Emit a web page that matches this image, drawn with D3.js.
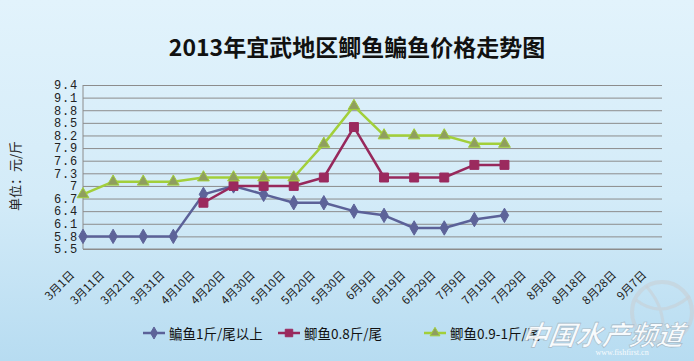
<!DOCTYPE html>
<html><head><meta charset="utf-8">
<script src="https://cdn.jsdelivr.net/npm/d3@7"></script>
<style>html,body{margin:0;padding:0;overflow:hidden;}svg{display:block;}</style>
</head><body>
<script>
const categories = ["3月1日","3月11日","3月21日","3月31日","4月10日","4月20日","4月30日","5月10日","5月20日","5月30日","6月9日","6月19日","6月29日","7月9日","7月19日","7月29日","8月8日","8月18日","8月28日","9月7日"];
const yTicks = [5.5,5.8,6.1,6.4,6.7,7,7.3,7.6,7.9,8.2,8.5,8.8,9.1,9.4];
const seriesNames = ["鳊鱼1斤/尾以上","鲫鱼0.8斤/尾","鲫鱼0.9-1斤/尾"];
const bianyu = [5.8,5.8,5.8,5.8,6.8,7.0,6.8,6.6,6.6,6.4,6.3,6.0,6.0,6.2,6.3,null,null,null,null,null];
const jiyu08 = [null,null,null,null,6.6,7.0,7.0,7.0,7.2,8.4,7.2,7.2,7.2,7.5,7.5,null,null,null,null,null];
const jiyu09 = [6.8,7.1,7.1,7.1,7.2,7.2,7.2,7.2,8.0,8.9,8.2,8.2,8.2,8.0,8.0,null,null,null,null,null];

(function(){
const W = 694, H = 361;
const svg = d3.select("body").append("svg").attr("width", W).attr("height", H);
const defs = svg.append("defs");
const grad = defs.append("linearGradient").attr("id","bg").attr("x1",0).attr("y1",0).attr("x2",0).attr("y2",1);
grad.append("stop").attr("offset","0%").attr("stop-color","#e2f3fc");
grad.append("stop").attr("offset","55%").attr("stop-color","#d3ebf8");
grad.append("stop").attr("offset","100%").attr("stop-color","#b7dcf1");
svg.append("rect").attr("width",W).attr("height",H).attr("fill","url(#bg)");

const pLeft = 83, pTop = 85, pBottom = 249, gridRight = 662;
const x = d3.scalePoint().domain(categories).range([pLeft, 655]);
const y = d3.scaleLinear().domain([5.5, 9.4]).range([pBottom, pTop]);

// title
svg.append("text").attr("x",357).attr("y",56).attr("text-anchor","middle")
  .attr("font-family","'Noto Sans CJK SC', sans-serif").attr("font-weight","bold")
  .attr("font-size",23).attr("fill","#111").text("2013年宜武地区鲫鱼鳊鱼价格走势图");

// y axis with gridlines
const yAxis = svg.append("g").attr("transform",`translate(${pLeft},0)`)
  .call(d3.axisLeft(y).tickValues(yTicks).tickSize(-(gridRight-pLeft)).tickPadding(5).tickFormat(d3.format("")));
yAxis.select(".domain").remove();
yAxis.selectAll(".tick line").attr("stroke","#8c8c8c").attr("stroke-width",1);
yAxis.selectAll(".tick text").attr("font-family","'Liberation Mono', monospace").attr("font-size",12)
  .attr("letter-spacing",0.8).attr("fill","#222");

svg.append("line").attr("x1",pLeft).attr("x2",pLeft).attr("y1",pTop).attr("y2",pBottom).attr("stroke","#8c8c8c");

// x axis
const xAxis = svg.append("g").attr("transform",`translate(0,${pBottom})`)
  .call(d3.axisBottom(x).tickSize(0));
xAxis.select(".domain").attr("stroke","#8c8c8c").attr("d",`M${pLeft},0H${gridRight}`);
xAxis.selectAll(".tick text")
  .attr("font-family","'Noto Sans CJK SC', sans-serif").attr("font-size",11.5).attr("fill","#222")
  .attr("text-anchor","end").attr("dy",null).attr("y",null)
  .attr("dominant-baseline","central")
  .attr("transform","translate(-12,23) rotate(-45)");

// y title
svg.append("text").attr("transform","translate(14,176) rotate(-90)").attr("text-anchor","middle")
  .attr("dominant-baseline","central")
  .attr("font-family","'Noto Sans CJK SC', sans-serif").attr("font-size",13).attr("fill","#222")
  .text("单位：元/斤");

const series = [
  {name: seriesNames[0], values: bianyu, line: "#5b6198", fill: "#5d6399", stroke: "#5d6399", shape: d3.symbolDiamond, size: 60},
  {name: seriesNames[1], values: jiyu08, line: "#97295c", fill: "#9b2a5e", stroke: "#9b2a5e", shape: d3.symbolSquare, size: 80},
  {name: seriesNames[2], values: jiyu09, line: "#a2cf3a", fill: "#8f9e5f", stroke: "#a2cf3a", shape: d3.symbolTriangle, size: 60}
];

const lineGen = d3.line().defined(d => d.v != null).x(d => x(d.c)).y(d => y(d.v));
series.forEach(s => {
  const pts = categories.map((c,i) => ({c, v: s.values[i]}));
  svg.append("path").datum(pts).attr("d", lineGen).attr("fill","none")
    .attr("stroke", s.line).attr("stroke-width", 2.5).attr("stroke-linejoin","round");
  svg.append("g").selectAll("path").data(pts.filter(d => d.v != null)).join("path")
    .attr("d", d3.symbol().type(s.shape).size(s.size))
    .attr("transform", d => `translate(${x(d.c)},${y(d.v)})`)
    .attr("fill", s.fill).attr("stroke", s.stroke).attr("stroke-width", 1);
});

// legend
const legendX = [143, 278, 424];
series.forEach((s,i) => {
  const g = svg.append("g").attr("transform",`translate(${legendX[i]},333)`);
  g.append("line").attr("x1",0).attr("x2",22).attr("y1",0).attr("y2",0).attr("stroke",s.line).attr("stroke-width",2.5);
  g.append("path").attr("d", d3.symbol().type(s.shape).size(s.size*0.7)).attr("transform","translate(11,0)")
    .attr("fill", s.fill).attr("stroke", s.stroke);
  g.append("text").attr("x",26).attr("y",0).attr("dominant-baseline","central")
    .attr("font-family","'Noto Sans CJK SC', sans-serif").attr("font-size",13.5).attr("fill","#111").text(s.name);
});

// watermark
const wm = svg.append("g").attr("opacity",0.9);
wm.append("circle").attr("cx",662).attr("cy",312).attr("r",30).attr("fill","none").attr("stroke","#c9cfd3").attr("stroke-width",4).attr("opacity",0.6);
wm.append("path").attr("d","M636,300 Q662,320 690,296 M646,286 Q668,310 662,342").attr("fill","none").attr("stroke","#c9cfd3").attr("stroke-width",3).attr("opacity",0.6);
wm.append("text").attr("x",602).attr("y",345).attr("text-anchor","middle")
  .attr("font-family","'Noto Sans CJK SC', sans-serif").attr("font-weight","bold").attr("font-style","italic")
  .attr("font-size",27).attr("fill","#ffffff").attr("stroke","#9fb2c0").attr("stroke-width",0.6)
  .attr("transform","skewX(-8) translate(48,0)")
  .text("中国水产频道");
wm.append("text").attr("x",622).attr("y",355).attr("text-anchor","middle")
  .attr("font-family","'Liberation Serif', serif").attr("font-size",8).attr("fill","#ffffff")
  .text("www.fishfirst.cn");
})();
</script>
</body></html>
